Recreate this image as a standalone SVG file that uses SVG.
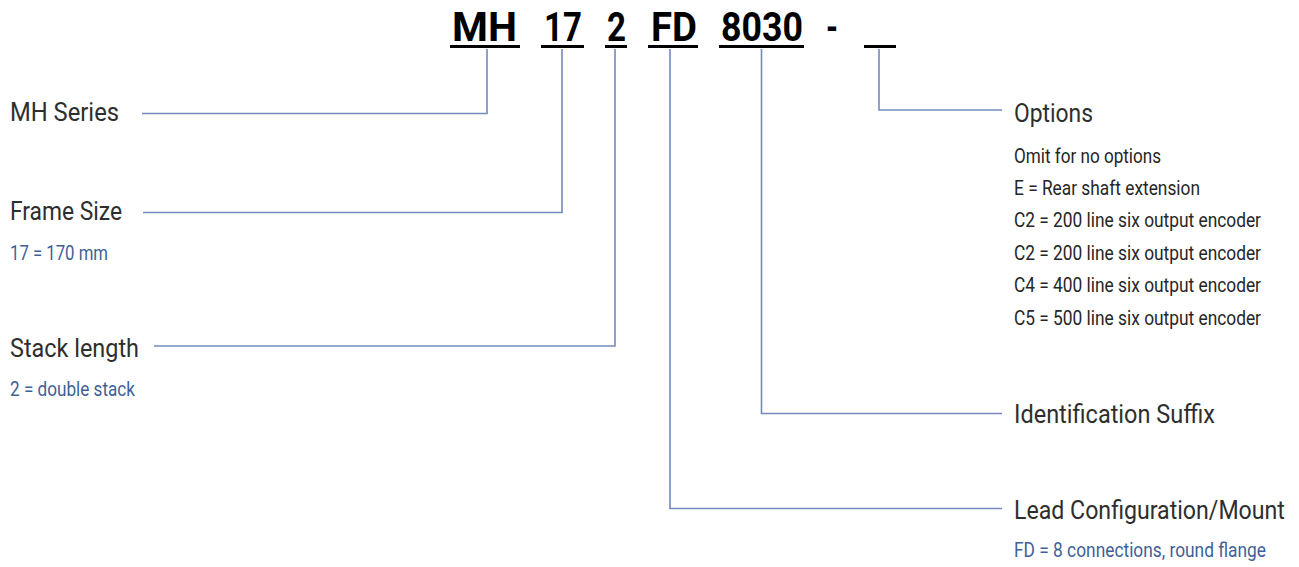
<svg xmlns="http://www.w3.org/2000/svg" width="1299" height="567" viewBox="0 0 1299 567">
<style>
text{font-family:"Liberation Sans Narrow","Roboto","Liberation Sans",sans-serif;}
.code{font-size:41px;font-weight:bold;fill:#000;}
.ul{stroke:#000;stroke-width:3;fill:none;}
.head{font-size:26px;fill:#2e2e2e;}
.sub{font-size:19.5px;fill:#3f5f97;}
.opt{font-size:19.5px;fill:#262626;}
.conn{stroke:#7489bd;stroke-width:1.6;fill:none;}
</style>
<rect width="1299" height="567" fill="#ffffff"/>
<g id="part-number">
<text class="code" x="452" y="41" textLength="65" lengthAdjust="spacingAndGlyphs">MH</text>
<text class="code" x="544" y="41" textLength="38" lengthAdjust="spacingAndGlyphs">17</text>
<text class="code" x="607" y="41" textLength="19" lengthAdjust="spacingAndGlyphs">2</text>
<text class="code" x="651" y="41" textLength="46" lengthAdjust="spacingAndGlyphs">FD</text>
<text class="code" x="721" y="41" textLength="82" lengthAdjust="spacingAndGlyphs">8030</text>
<text class="code" x="826" y="41" textLength="12" lengthAdjust="spacingAndGlyphs">-</text>
<line class="ul" x1="450" y1="46.5" x2="520" y2="46.5"/>
<line class="ul" x1="541" y1="46.5" x2="584" y2="46.5"/>
<line class="ul" x1="605" y1="46.5" x2="627" y2="46.5"/>
<line class="ul" x1="648" y1="46.5" x2="698" y2="46.5"/>
<line class="ul" x1="719" y1="46.5" x2="804" y2="46.5"/>
<line class="ul" x1="864" y1="46.5" x2="896" y2="46.5"/>
</g>
<g id="connectors">
<polyline class="conn" points="487,49 487,113.5 142,113.5"/>
<polyline class="conn" points="562,49 562,212.5 143,212.5"/>
<polyline class="conn" points="615,49 615,346 154,346"/>
<polyline class="conn" points="670,49 670,508.5 1002,508.5"/>
<polyline class="conn" points="761.5,49 761.5,413.5 1002,413.5"/>
<polyline class="conn" points="879,49 879,110 1002,110"/>
</g>
<g id="mh-series">
<text class="head" x="10" y="121" textLength="109" lengthAdjust="spacingAndGlyphs">MH Series</text>
</g>
<g id="frame-size">
<text class="head" x="10" y="220" textLength="112" lengthAdjust="spacingAndGlyphs">Frame Size</text>
<text class="sub" x="10" y="259.5" textLength="98" lengthAdjust="spacingAndGlyphs">17 = 170 mm</text>
</g>
<g id="stack-length">
<text class="head" x="10" y="357" textLength="129" lengthAdjust="spacingAndGlyphs">Stack length</text>
<text class="sub" x="10" y="396" textLength="125" lengthAdjust="spacingAndGlyphs">2 = double stack</text>
</g>
<g id="options">
<text class="head" x="1014" y="121.5" textLength="79" lengthAdjust="spacingAndGlyphs">Options</text>
<text class="opt" x="1014" y="162.5" textLength="147" lengthAdjust="spacingAndGlyphs">Omit for no options</text>
<text class="opt" x="1014" y="195" textLength="186" lengthAdjust="spacingAndGlyphs">E = Rear shaft extension</text>
<text class="opt" x="1014" y="227" textLength="247" lengthAdjust="spacingAndGlyphs">C2 = 200 line six output encoder</text>
<text class="opt" x="1014" y="259.5" textLength="247" lengthAdjust="spacingAndGlyphs">C2 = 200 line six output encoder</text>
<text class="opt" x="1014" y="292" textLength="247" lengthAdjust="spacingAndGlyphs">C4 = 400 line six output encoder</text>
<text class="opt" x="1014" y="324.5" textLength="247" lengthAdjust="spacingAndGlyphs">C5 = 500 line six output encoder</text>
</g>
<g id="identification-suffix">
<text class="head" x="1014" y="423" textLength="201" lengthAdjust="spacingAndGlyphs">Identification Suffix</text>
</g>
<g id="lead-configuration">
<text class="head" transform="translate(1014,519) scale(0.9,1)" x="0" y="0" textLength="301" lengthAdjust="spacingAndGlyphs">Lead Configuration/Mount</text>
<text class="sub" x="1014" y="557" textLength="252" lengthAdjust="spacingAndGlyphs">FD = 8 connections, round flange</text>
</g>
</svg>
